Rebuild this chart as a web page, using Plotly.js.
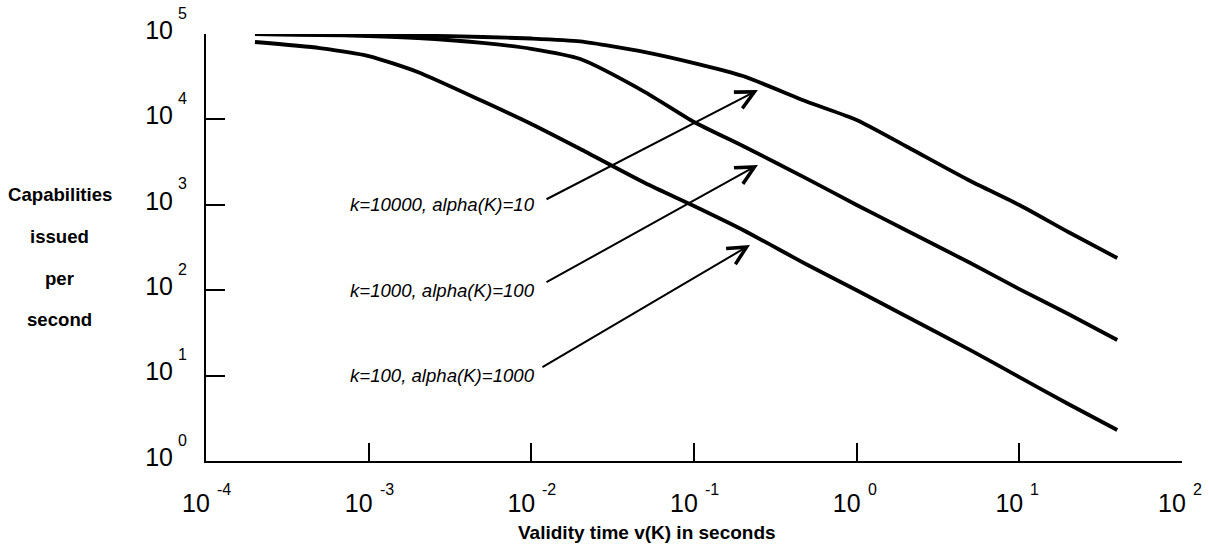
<!DOCTYPE html>
<html><head><meta charset="utf-8">
<script src="https://cdn.plot.ly/plotly-3.0.1.min.js"></script>
<style>html,body{margin:0;padding:0;background:#fff;}#chart{width:1209px;height:554px;}</style>
</head><body><div id="chart"></div>
<script>
// Validity time v(K) in seconds (x) and capabilities issued per second (y)
const validityTime = [2e-4, 5e-4, 1e-3, 2e-3, 5e-3, 1e-2, 2e-2, 5e-2, 0.1, 0.2, 0.5, 1, 2, 5, 10, 20, 40];
const capsK10000 = [100000, 98700, 97300, 96000, 92200, 88600, 82000, 61500, 45700, 32200, 16000, 9840, 4880, 1900, 995, 480, 238];
const capsK1000  = [100000, 97300, 94800, 89800, 78500, 67000, 50900, 20900, 9330, 4880, 2000, 995, 507, 208, 103, 52.6, 26.1];
const capsK100   = [80600, 68500, 55200, 35900, 16400, 8830, 4500, 1800, 968, 507, 197, 100, 49.9, 19.9, 9.6, 4.65, 2.31];

const seriesNames = ['k=10000, alpha(K)=10', 'k=1000, alpha(K)=100', 'k=100, alpha(K)=1000'];

// tick labels: base "10" with a raised exponent
const xTickVals = [1e-4, 1e-3, 1e-2, 1e-1, 1, 10, 100];
const xTickExp  = ['-4', '-3', '-2', '-1', '0', '1', '2'];
const yTickVals = [1, 10, 100, 1000, 10000, 100000];
const yTickExp  = ['0', '1', '2', '3', '4', '5'];
const tickBase = '10';

const xTitle = 'Validity time v(K) in seconds';
const yTitleLines = ['Capabilities', 'issued', 'per', 'second'];

const FONT = 'Arial, "Liberation Sans", Helvetica, sans-serif';
const lineStyle = {color: '#000', width: 3.8, shape: 'spline', smoothing: 0.6};

const traces = [capsK10000, capsK1000, capsK100].map((ys, i) => ({
  type: 'scatter', mode: 'lines', x: validityTime, y: ys, name: seriesNames[i],
  line: lineStyle, hoverinfo: 'skip'
}));

// label positions (log10 axis units) and arrow head/tail positions
const labelPos = [[-1.966, 2.998], [-1.966, 2.002], [-1.966, 1.007]];
const arrowHead = [[-0.607, 4.344], [-0.607, 3.466], [-0.656, 2.529]];
const arrowTail = [[-1.916, 3.056], [-1.916, 2.084], [-1.941, 1.089]];

const annotations = [];
seriesNames.forEach((t, i) => {
  annotations.push({
    x: labelPos[i][0], y: labelPos[i][1], xref: 'x', yref: 'y',
    xanchor: 'right', yanchor: 'middle', showarrow: false, text: t,
    font: {family: FONT, size: 18.6, style: 'italic', color: '#000'}
  });
  annotations.push({
    x: arrowHead[i][0], y: arrowHead[i][1], xref: 'x', yref: 'y',
    ax: arrowTail[i][0], ay: arrowTail[i][1], axref: 'x', ayref: 'y',
    text: '', showarrow: true, arrowhead: 5, arrowsize: 1.8, arrowwidth: 2,
    arrowcolor: '#000', standoff: 0, startstandoff: 0
  });
});
// exponents of the tick labels
const expFont = {family: FONT, size: 16, color: '#000'};
xTickVals.forEach((v, i) => {
  annotations.push({
    x: Math.log10(v), y: 0, xref: 'x', yref: 'paper', xanchor: 'left', yanchor: 'middle',
    xshift: 9, yshift: -28, showarrow: false, text: xTickExp[i], font: expFont
  });
});
yTickVals.forEach((v, i) => {
  annotations.push({
    x: 0, y: Math.log10(v), xref: 'paper', yref: 'y', xanchor: 'left', yanchor: 'middle',
    xshift: -30, yshift: 21, showarrow: false, text: yTickExp[i], font: expFont
  });
});
const yTitleY = [0.623, 0.525, 0.428, 0.332];
yTitleLines.forEach((t, i) => {
  annotations.push({
    x: -0.1496, y: yTitleY[i], xref: 'paper', yref: 'paper',
    xanchor: 'center', yanchor: 'middle', showarrow: false, text: t,
    font: {family: FONT, size: 18.6, weight: 'bold', color: '#000'}
  });
});
annotations.push({
  x: 0.452, y: -0.1686, xref: 'paper', yref: 'paper',
  xanchor: 'center', yanchor: 'middle', showarrow: false, text: xTitle,
  font: {family: FONT, size: 19, weight: 'bold', color: '#000'}
});

const axisCommon = {
  type: 'log', ticks: 'inside', tickwidth: 2, tickcolor: '#000',
  showline: true, linewidth: 2, linecolor: '#000', showgrid: false, zeroline: false,
  tickfont: {family: FONT, size: 25, color: '#000'}, fixedrange: true
};

const layout = {
  width: 1209, height: 554,
  margin: {l: 206, r: 27, t: 34, b: 93},
  paper_bgcolor: '#fff', plot_bgcolor: '#fff',
  showlegend: false,
  font: {family: FONT, color: '#000'},
  xaxis: Object.assign({}, axisCommon, {range: [-4, 2], tickvals: xTickVals,
    ticktext: xTickVals.map(() => tickBase), ticklen: 18, ticklabelstandoff: 19, ticklabelshift: -10}),
  yaxis: Object.assign({}, axisCommon, {range: [0, 5], tickvals: yTickVals,
    ticktext: yTickVals.map(() => tickBase), ticklen: 19, ticklabelstandoff: 26, ticklabelshift: -4}),
  annotations: annotations
};

Plotly.newPlot('chart', traces, layout, {staticPlot: true, displayModeBar: false});
</script>
</body></html>
